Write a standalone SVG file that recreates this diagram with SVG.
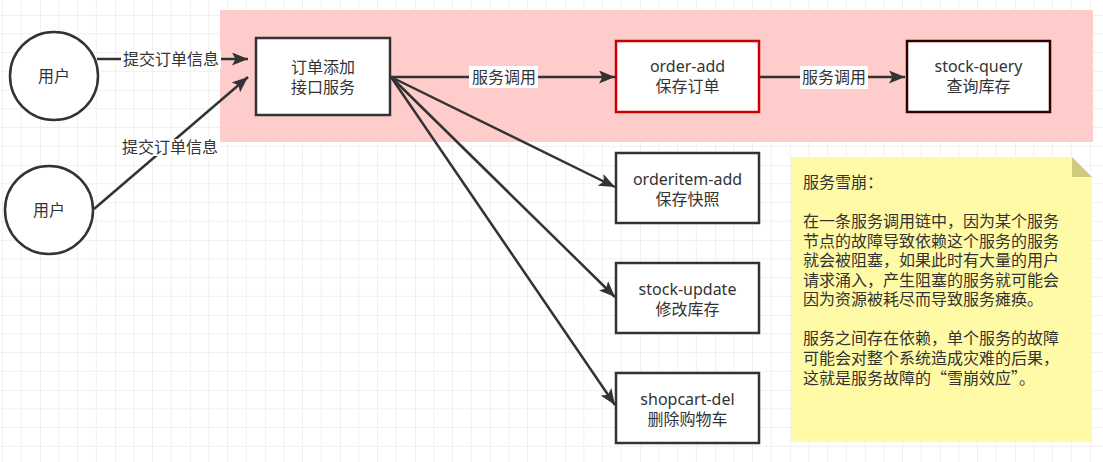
<svg xmlns="http://www.w3.org/2000/svg" width="1103" height="462" viewBox="0 0 1103 462">
<style>
text{font-family:"Noto Sans","Noto Sans CJK SC",sans-serif;font-size:16px;fill:#333333}
.c{text-anchor:middle}
.cjk{font-family:"Noto Sans CJK SC",sans-serif}
.node{fill:#ffffff;stroke:#333333;stroke-width:2.5}
.edge{fill:none;stroke:#333333;stroke-width:2.5}
.lbl{fill:#ffffff}
</style>
<defs>
<pattern id="grid" patternUnits="userSpaceOnUse" x="40" y="15" width="75" height="75">
<path d="M18.75 0V75M37.5 0V75M56.25 0V75M0 18.75H75M0 37.5H75M0 56.25H75" stroke="#f0f0f0" stroke-width="1" fill="none"/>
<path d="M0 0V75M0 0H75" stroke="#e3e3e3" stroke-width="1" fill="none"/>
</pattern>
<marker id="arr" markerUnits="userSpaceOnUse" markerWidth="18" markerHeight="14" refX="16" refY="6.5" orient="auto">
<path d="M0 0L16 6.5L0 13L3.5 6.5Z" fill="#333333"/>
</marker>
</defs>
<rect width="1103" height="462" fill="#ffffff"/>
<rect width="1103" height="462" fill="url(#grid)"/>
<rect id="zone" x="220" y="10" width="873" height="132" fill="#ffcccc"/>

<g id="connectors">
<line class="edge" x1="97" y1="59" x2="248" y2="59" marker-end="url(#arr)"/>
<line class="edge" x1="94" y1="209" x2="248" y2="77" marker-end="url(#arr)"/>
<line class="edge" x1="391" y1="77" x2="615" y2="77" marker-end="url(#arr)"/>
<line class="edge" x1="760" y1="77" x2="905" y2="77" marker-end="url(#arr)"/>
<line class="edge" x1="391" y1="77" x2="615" y2="187" marker-end="url(#arr)"/>
<line class="edge" x1="391" y1="77" x2="615" y2="297" marker-end="url(#arr)"/>
<line class="edge" x1="391" y1="77" x2="615" y2="405" marker-end="url(#arr)"/>
<rect class="lbl" x="121" y="51" width="100" height="17"/>
<text class="c" x="171" y="65">提交订单信息</text>
<rect class="lbl" x="121" y="139" width="99" height="17"/>
<text class="c" x="170" y="153">提交订单信息</text>
<rect class="lbl" x="469" y="66" width="69" height="22"/>
<text class="c" x="504" y="83">服务调用</text>
<rect class="lbl" x="800" y="66" width="68" height="23"/>
<text class="c" x="834" y="83">服务调用</text>
</g>

<g id="user1">
<circle class="node" cx="54" cy="76" r="44"/>
<text class="c" x="54" y="82">用户</text>
</g>
<g id="user2">
<circle class="node" cx="49" cy="210" r="44"/>
<text class="c" x="49" y="216">用户</text>
</g>
<g id="api">
<rect class="node" x="256" y="38" width="134" height="77"/>
<text class="c" x="323" y="73">订单添加<tspan x="323" y="93">接口服务</tspan></text>
</g>
<g id="order-add">
<rect class="node" x="616" y="41" width="143" height="71" style="stroke:#cc0000"/>
<text class="c" x="687.5" y="72">order-add<tspan x="687.5" y="92">保存订单</tspan></text>
</g>
<g id="stock-query">
<rect class="node" x="907" y="41" width="143" height="71" style="stroke:#330000"/>
<text class="c" x="978.5" y="72">stock-query<tspan x="978.5" y="92">查询库存</tspan></text>
</g>
<g id="orderitem-add">
<rect class="node" x="616" y="153" width="143" height="70"/>
<text class="c" x="687.5" y="185">orderitem-add<tspan x="687.5" y="205">保存快照</tspan></text>
</g>
<g id="stock-update">
<rect class="node" x="616" y="263" width="143" height="70"/>
<text class="c" x="687.5" y="295">stock-update<tspan x="687.5" y="315">修改库存</tspan></text>
</g>
<g id="shopcart-del">
<rect class="node" x="616" y="373" width="143" height="70"/>
<text class="c" x="687.5" y="405">shopcart-del<tspan x="687.5" y="425">删除购物车</tspan></text>
</g>
<g id="note">
<path d="M791 157H1072L1092 177V442H791Z" fill="#fffaa6"/>
<path d="M1072 157L1092 177H1072Z" fill="#d1ca7e"/>
<text x="803" y="188">服务雪崩：<tspan x="803" y="227">在一条服务调用链中，因为某个服务</tspan><tspan x="803" y="247">节点的故障导致依赖这个服务的服务</tspan><tspan x="803" y="266">就会被阻塞，如果此时有大量的用户</tspan><tspan x="803" y="286">请求涌入，产生阻塞的服务就可能会</tspan><tspan x="803" y="305">因为资源被耗尽而导致服务瘫痪。</tspan><tspan x="803" y="344">服务之间存在依赖，单个服务的故障</tspan><tspan x="803" y="364">可能会对整个系统造成灾难的后果，</tspan><tspan x="803" y="384" class="cjk">这就是服务故障的“雪崩效应”。</tspan></text>
</g>
</svg>
